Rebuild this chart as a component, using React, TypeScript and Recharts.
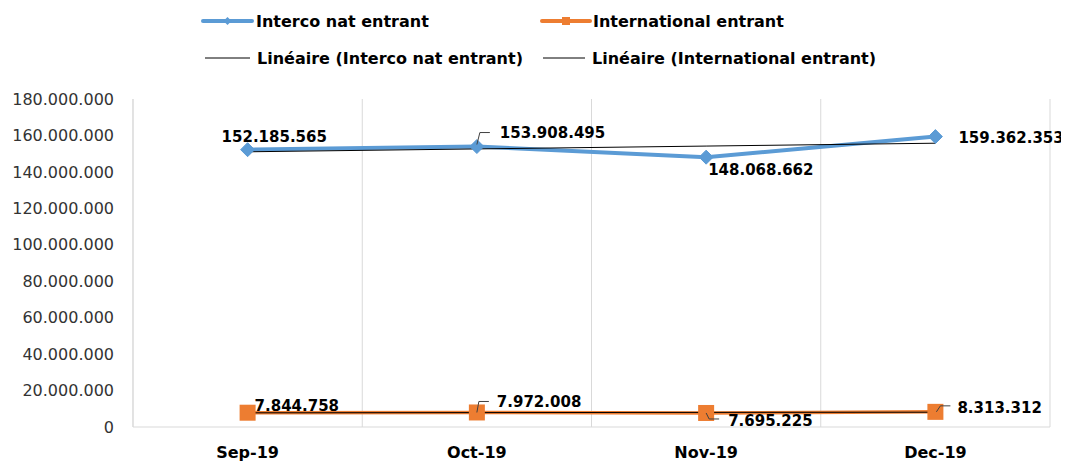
import React from "react";
import { LineChart, Line, XAxis, YAxis, CartesianGrid, LabelList } from "recharts";

const months = ["Sep-19", "Oct-19", "Nov-19", "Dec-19"];
const intercoNat = [152185565, 153908495, 148068662, 159362353];
const international = [7844758, 7972008, 7695225, 8313312];
// linear trend values (as drawn in the picture)
const intercoTrend = [151027689, 152596742, 154165795, 155735848];
const internationalTrend = [7786994, 7899882, 8012770, 8125658];
const yTicks = [0, 20000000, 40000000, 60000000, 80000000, 100000000, 120000000, 140000000, 160000000, 180000000];

const data = months.map((m, i) => ({
  month: m,
  interco: intercoNat[i],
  intl: international[i],
  intercoT: intercoTrend[i],
  intlT: internationalTrend[i],
}));

const BLUE = "#5B9BD5";
const ORANGE = "#ED7D31";
const FONT = "'DejaVu Sans', sans-serif";

const fmt = (v: number) => String(Math.round(v)).replace(/\B(?=(\d{3})+(?!\d))/g, ".");

type LabelStyle = { dx: number; dy: number; leader?: string };
const intercoLabelStyle: LabelStyle[] = [
  { dx: -26, dy: -12.5 },
  { dx: 23, dy: -13.5, leader: "M0,-2 L3,-14 L13,-14" },
  { dx: 2, dy: 13 },
  { dx: 23, dy: 1.5 },
];
const intlLabelStyle: LabelStyle[] = [
  { dx: 7, dy: -7 },
  { dx: 20, dy: -10.5, leader: "M0,0 L2,-11 L12,-11" },
  { dx: 22, dy: 8, leader: "M0,0 L3,6 L13,6" },
  { dx: 22, dy: -4, leader: "M1,0 L5,-6 L15,-6" },
];

const makeLabel = (styles: LabelStyle[]) => (props: any) => {
  const { x, y, index, value } = props;
  const s = styles[index];
  if (x == null || y == null || !s) return null;
  return (
    <g key={`lbl-${index}`}>
      {s.leader && (
        <path d={s.leader} transform={`translate(${x},${y})`} stroke="#404040" strokeWidth={1} fill="none" />
      )}
      <text
        x={x + s.dx}
        y={y + s.dy}
        textAnchor="start"
        dominantBaseline="central"
        fontFamily={FONT}
        fontWeight="bold"
        fontSize={15}
        fill="#000"
      >
        {fmt(value)}
      </text>
    </g>
  );
};

const Diamond = (props: any) => {
  const { cx, cy, index } = props;
  if (cx == null || cy == null) return null;
  return <path key={`d-${index}`} d={`M${cx},${cy - 7} L${cx + 7},${cy} L${cx},${cy + 7} L${cx - 7},${cy} Z`} fill={BLUE} stroke={BLUE} />;
};

const Square = (props: any) => {
  const { cx, cy, index } = props;
  if (cx == null || cy == null) return null;
  return <rect key={`s-${index}`} x={cx - 8} y={cy - 8} width={16} height={16} fill={ORANGE} />;
};

const LegendOverlay = () => (
  <svg width={1061} height={80} style={{ position: "absolute", left: 0, top: 0, pointerEvents: "none" }}>
    <g fontFamily={FONT} fontWeight="bold" fontSize={16} fill="#000">
      <line x1={195} y1={13} x2={244} y2={13} stroke={BLUE} strokeWidth={4} strokeLinecap="round" />
      <path d="M219.5,9 L223.5,13 L219.5,17 L215.5,13 Z" fill={BLUE} />
      <text x={248} y={13} dominantBaseline="central">Interco nat entrant</text>

      <line x1={534} y1={13} x2={582} y2={13} stroke={ORANGE} strokeWidth={4} strokeLinecap="round" />
      <rect x={554} y={9} width={8} height={8} fill={ORANGE} />
      <text x={585} y={13} dominantBaseline="central">International entrant</text>

      <line x1={197} y1={50} x2={242} y2={50} stroke="#000" strokeWidth={1} />
      <text x={249} y={50} dominantBaseline="central">Linéaire (Interco nat entrant)</text>

      <line x1={535} y1={50} x2={577} y2={50} stroke="#000" strokeWidth={1} />
      <text x={584} y={50} dominantBaseline="central">Linéaire (International entrant)</text>
    </g>
  </svg>
);

export default function App() {
  return (
    <div style={{ position: "relative", width: 1061, height: 456, background: "#fff" }}>
      <LineChart
        width={1061}
        height={456}
        data={data}
        margin={{ top: 91, right: 19, bottom: 0, left: 0 }}
      >
        <CartesianGrid
          horizontal={false}
          stroke="#D9D9D9"
          verticalCoordinatesGenerator={(p: any) => {
            const off = p.offset;
            return [0, 1, 2, 3, 4].map((i) => off.left + (i * off.width) / 4);
          }}
        />
        <XAxis
          dataKey="month"
          padding={{ left: 114.6, right: 114.6 }}
          axisLine={{ stroke: "#D9D9D9" }}
          tickLine={false}
          tickSize={0}
          tickMargin={20}
          height={37}
          tick={{ fontFamily: FONT, fontWeight: "bold", fontSize: 16, fill: "#000" }}
        />
        <YAxis
          width={125}
          domain={[0, 180000000]}
          ticks={yTicks}
          interval={0}
          axisLine={{ stroke: "#D9D9D9" }}
          tickLine={false}
          tickSize={0}
          tickMargin={19}
          tickFormatter={fmt}
          tick={{ fontFamily: FONT, fontSize: 16, fill: "#333" }}
        />
        <Line
          dataKey="interco"
          stroke={BLUE}
          strokeWidth={4}
          dot={<Diamond />}
          activeDot={false}
          isAnimationActive={false}
        >
          <LabelList dataKey="interco" content={makeLabel(intercoLabelStyle)} />
        </Line>
        <Line
          dataKey="intl"
          stroke={ORANGE}
          strokeWidth={3.5}
          dot={<Square />}
          activeDot={false}
          isAnimationActive={false}
        >
          <LabelList dataKey="intl" content={makeLabel(intlLabelStyle)} />
        </Line>
        <Line dataKey="intercoT" stroke="#000" strokeWidth={1} dot={false} activeDot={false} isAnimationActive={false} />
        <Line dataKey="intlT" stroke="#000" strokeWidth={1} dot={false} activeDot={false} isAnimationActive={false} />
      </LineChart>
      <LegendOverlay />
    </div>
  );
}
